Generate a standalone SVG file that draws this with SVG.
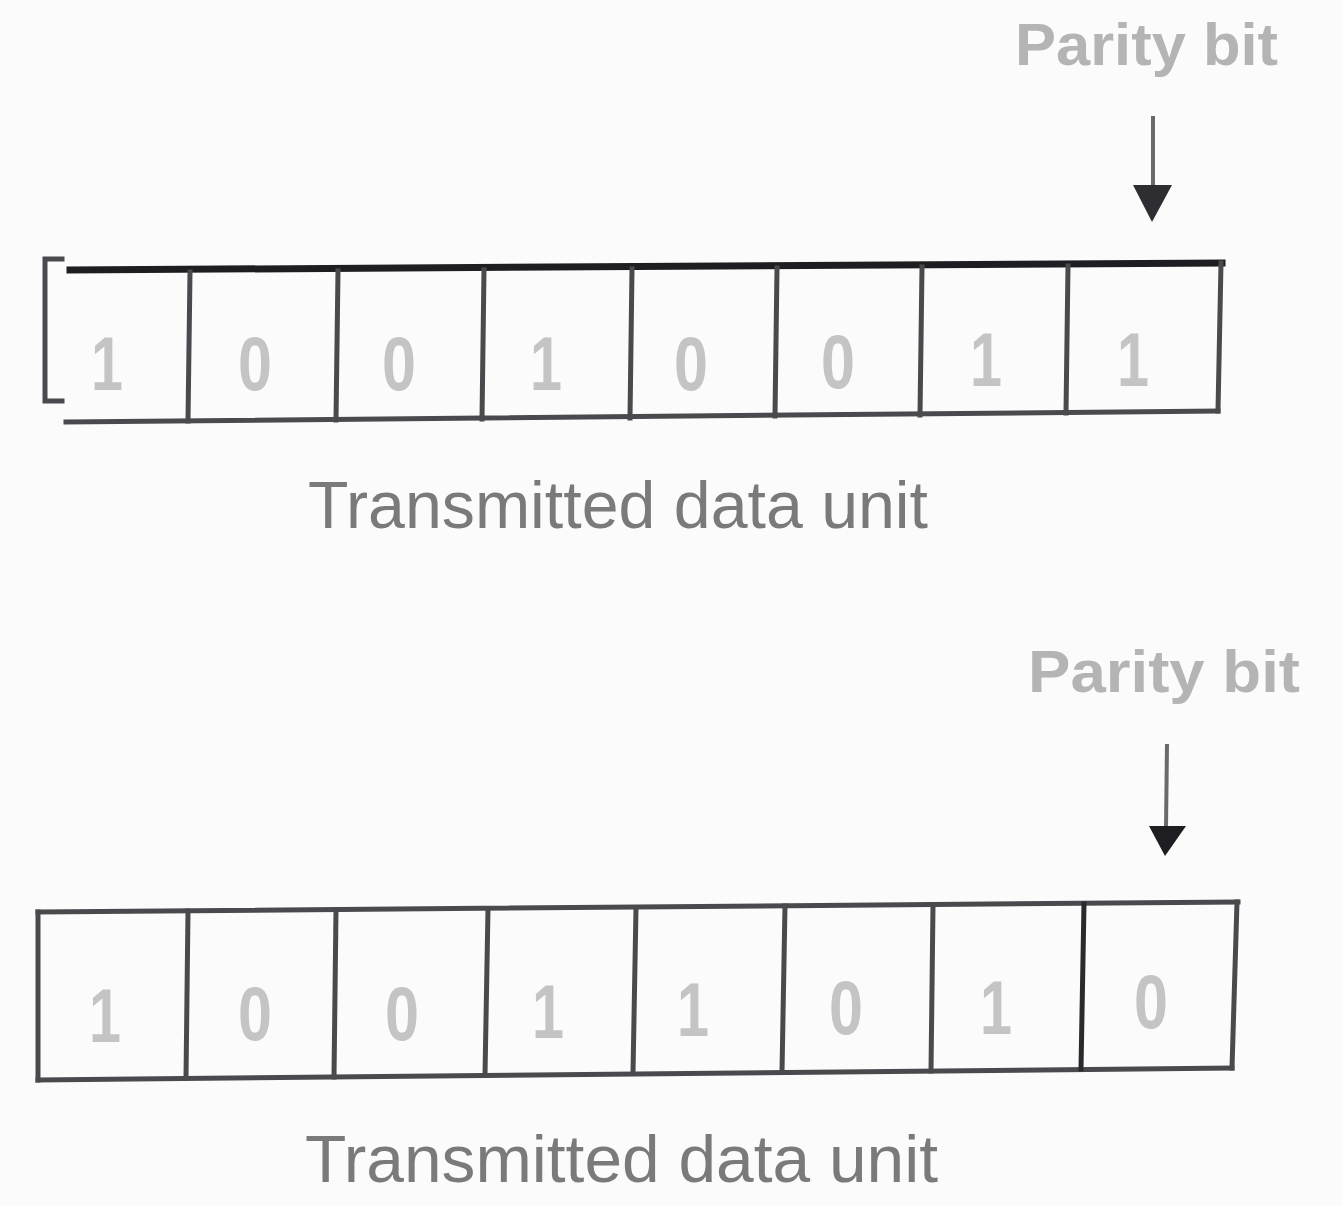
<svg xmlns="http://www.w3.org/2000/svg" width="1343" height="1206" viewBox="0 0 1343 1206">
<style>
.frame{stroke:#4a4a4e;stroke-width:5;fill:none;stroke-linecap:square}
.top{stroke:#1e1e22;stroke-width:7}
.bit{font-family:"Liberation Sans",Arial,sans-serif;font-size:76px;fill:#c4c4c4;text-anchor:middle;font-weight:bold}
.cap{font-family:"Liberation Sans",Arial,sans-serif;font-size:66px;fill:#7a7a7a}
.par{font-family:"Liberation Sans",Arial,sans-serif;font-size:60px;fill:#b4b4b4;font-weight:bold}
.arr{stroke:#6a6a6e;stroke-width:4}
</style>
<rect width="1343" height="1206" fill="#fbfbfb"/>

<g id="unit1">
<path class="frame" d="M62 259 L45 259 L45 401 L62 401"/>
<line class="frame top" x1="70" y1="270" x2="1222" y2="263"/>
<line class="frame" x1="66" y1="422" x2="1218" y2="411"/>
<line class="frame" x1="1221" y1="263" x2="1218" y2="411"/>
<line class="frame" x1="190" y1="272" x2="188" y2="421"/>
<line class="frame" x1="338" y1="271" x2="336" y2="420"/>
<line class="frame" x1="484" y1="270" x2="482" y2="419"/>
<line class="frame" x1="632" y1="269" x2="630" y2="418"/>
<line class="frame" x1="777" y1="268" x2="775" y2="416"/>
<line class="frame" x1="922" y1="267" x2="920" y2="415"/>
<line class="frame" x1="1068" y1="266" x2="1066" y2="413"/>
<g id="b1-1"><text class="bit" x="107" y="390" textLength="32" lengthAdjust="spacingAndGlyphs">1</text></g>
<g id="b1-2"><text class="bit" x="255" y="390" textLength="34" lengthAdjust="spacingAndGlyphs">0</text></g>
<g id="b1-3"><text class="bit" x="399" y="390" textLength="34" lengthAdjust="spacingAndGlyphs">0</text></g>
<g id="b1-4"><text class="bit" x="546" y="390" textLength="32" lengthAdjust="spacingAndGlyphs">1</text></g>
<g id="b1-5"><text class="bit" x="691" y="390" textLength="34" lengthAdjust="spacingAndGlyphs">0</text></g>
<g id="b1-6"><text class="bit" x="838" y="388" textLength="34" lengthAdjust="spacingAndGlyphs">0</text></g>
<g id="b1-7"><text class="bit" x="986" y="386" textLength="32" lengthAdjust="spacingAndGlyphs">1</text></g>
<g id="b1-8"><text class="bit" x="1133" y="386" textLength="32" lengthAdjust="spacingAndGlyphs">1</text></g>
<text class="cap" x="308" y="528" textLength="620" lengthAdjust="spacingAndGlyphs">Transmitted data unit</text>
</g>

<g id="parity1">
<text class="par" x="1015" y="65" textLength="263" lengthAdjust="spacingAndGlyphs">Parity bit</text>
</g>

<g id="unit2">
<line class="frame" x1="38" y1="912" x2="1238" y2="902"/>
<line class="frame" x1="38" y1="1080" x2="1232" y2="1068"/>
<line class="frame" x1="38" y1="912" x2="38" y2="1080"/>
<line class="frame" x1="1237" y1="902" x2="1232" y2="1068"/>
<line class="frame" x1="188" y1="911" x2="186" y2="1078"/>
<line class="frame" x1="336" y1="910" x2="334" y2="1077"/>
<line class="frame" x1="488" y1="909" x2="485" y2="1075"/>
<line class="frame" x1="636" y1="908" x2="633" y2="1073"/>
<line class="frame" x1="785" y1="906" x2="782" y2="1072"/>
<line class="frame" x1="933" y1="905" x2="931" y2="1071"/>
<line class="frame" x1="1084" y1="904" x2="1081" y2="1069" style="stroke:#2a2a2e"/>
<g id="b2-1"><text class="bit" x="105" y="1042" textLength="32" lengthAdjust="spacingAndGlyphs">1</text></g>
<g id="b2-2"><text class="bit" x="255" y="1040" textLength="34" lengthAdjust="spacingAndGlyphs">0</text></g>
<g id="b2-3"><text class="bit" x="402" y="1040" textLength="34" lengthAdjust="spacingAndGlyphs">0</text></g>
<g id="b2-4"><text class="bit" x="548" y="1038" textLength="32" lengthAdjust="spacingAndGlyphs">1</text></g>
<g id="b2-5"><text class="bit" x="693" y="1036" textLength="32" lengthAdjust="spacingAndGlyphs">1</text></g>
<g id="b2-6"><text class="bit" x="846" y="1034" textLength="34" lengthAdjust="spacingAndGlyphs">0</text></g>
<g id="b2-7"><text class="bit" x="996" y="1034" textLength="32" lengthAdjust="spacingAndGlyphs">1</text></g>
<g id="b2-8"><text class="bit" x="1151" y="1028" textLength="34" lengthAdjust="spacingAndGlyphs">0</text></g>
<text class="cap" x="305" y="1182" textLength="633" lengthAdjust="spacingAndGlyphs">Transmitted data unit</text>
</g>

<g id="parity2">
<text class="par" x="1028" y="692" textLength="272" lengthAdjust="spacingAndGlyphs">Parity bit</text>
</g>

<g id="connectors">
<line class="arr" x1="1153" y1="116" x2="1153" y2="190"/>
<polygon points="1133,185 1172,185 1152,222" fill="#2e2e32"/>
<line class="arr" x1="1167" y1="744" x2="1166" y2="828"/>
<polygon points="1149,826 1186,826 1165,856" fill="#1e1e22"/>
</g>
</svg>
